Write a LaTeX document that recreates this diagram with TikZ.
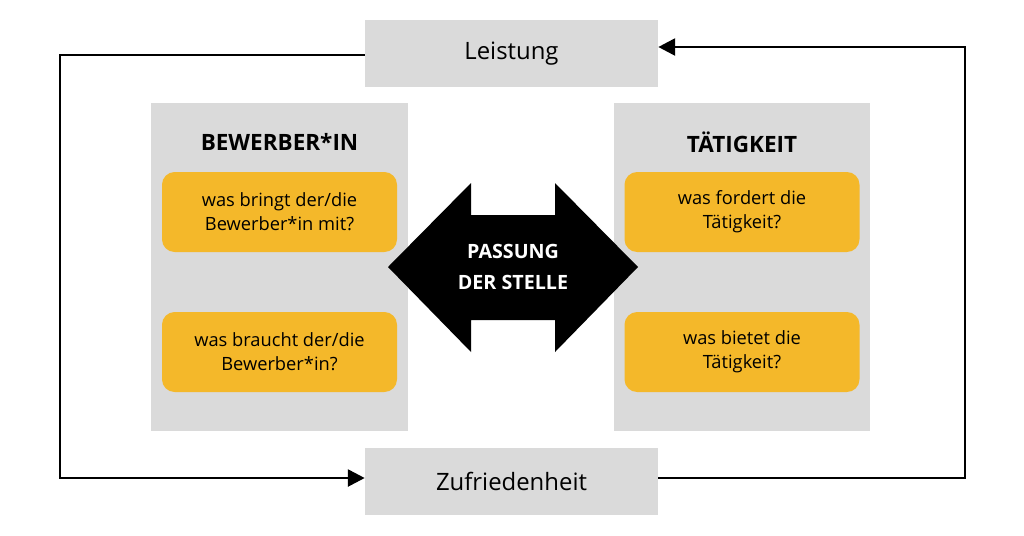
\documentclass[tikz,border=0pt]{standalone}
\usepackage{fontspec}
\setmainfont{Open Sans}
\usetikzlibrary{arrows.meta}

\definecolor{boxgray}{HTML}{DADADA}
\definecolor{boxorange}{HTML}{F4B82A}

\tikzset{
  graybox/.style={fill=boxgray, inner sep=0pt},
  orangebox/.style={fill=boxorange, rounded corners=9pt, inner sep=0pt,
                    minimum width=235*0.025cm, minimum height=80*0.025cm,
                    align=center, font=\fontsize{13}{17}\selectfont},
  heading/.style={font=\fontsize{16}{19}\selectfont\bfseries},
  loop/.style={line width=2pt, -{Triangle[length=12pt,width=12pt]}}
}

\begin{document}
\begin{tikzpicture}[x=0.025cm,y=-0.025cm]

\useasboundingbox (0,0) rectangle (1024,535);

% Leistung / Zufriedenheit
\node[graybox, minimum width=293*0.025cm, minimum height=67*0.025cm,
      font=\fontsize{17}{20}\selectfont]
      (leistung) at (511.5,53.5) {Leistung};
\node[graybox, minimum width=293*0.025cm, minimum height=67*0.025cm,
      font=\fontsize{17}{20}\selectfont]
      (zufrieden) at (511.5,481.5) {Zufriedenheit};

% panels
\fill[boxgray] (151,103) rectangle (408,431);
\fill[boxgray] (614,103) rectangle (870,431);

\node[heading] (bewerber) at (279.5,142) {BEWERBER*IN};
\node[heading] (taetig) at (742,142) {TÄTIGKEIT};

\node[orangebox] (bringt) at (279.5,212) {was bringt der/die\\Bewerber*in mit?};
\node[orangebox] (braucht) at (279.5,352) {was braucht der/die\\Bewerber*in?};
\node[orangebox] (fordert) at (742,212) {was fordert die\\Tätigkeit?};
\node[orangebox] (bietet) at (742,352) {was bietet die\\Tätigkeit?};

% double arrow
\fill[black] (388,267) -- (471,183) -- (471,215) -- (555,215) -- (555,183)
  -- (638,267) -- (555,352) -- (555,320) -- (471,320) -- (471,352) -- cycle;
\node[text=white, align=center, font=\fontsize{14}{22}\selectfont\bfseries]
  (passung) at (513,267) {PASSUNG\\DER STELLE};

% loop
\coordinate (lt) at (60,55);
\coordinate (lb) at (60,478);
\coordinate (rb) at (965,478);
\coordinate (rt) at (965,47);
\draw[loop] (leistung.west |- lt) -- (lt) -- (lb) -- (zufrieden.west |- lb);
\draw[loop] (zufrieden.east |- rb) -- (rb) -- (rt) -- (leistung.east |- rt);

\end{tikzpicture}
\end{document}
